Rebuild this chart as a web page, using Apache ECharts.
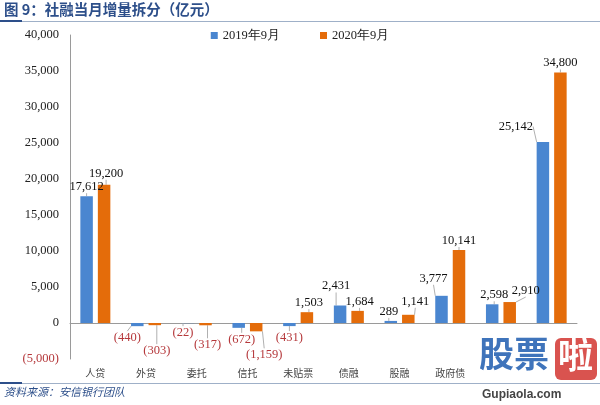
<!DOCTYPE html>
<html><head><meta charset="utf-8">
<script src="https://cdn.jsdelivr.net/npm/echarts@6/dist/echarts.min.js"></script>
<style>html,body{margin:0;padding:0;background:#fff}#c{width:600px;height:405px}</style>
</head><body><div id="c"></div>
<script>
const categories = ['人贷','外贷','委托','信托','未贴票','债融','股融','政府债','',''];
const seriesNames = ['2019年9月','2020年9月'];
const values2019 = [17612,-440,-22,-672,-431,2431,289,3777,2598,25142];
const values2020 = [19200,-303,-317,-1159,1503,1684,1141,10141,2910,34800];
const yTicks = [-5000,0,5000,10000,15000,20000,25000,30000,35000,40000];

const fmt = v => { const s = Math.abs(v).toLocaleString('en-US'); return v < 0 ? '(' + s + ')' : s; };
const serif = 'Liberation Serif';
const cjk = 'Noto Sans CJK SC';

// label displacement (dx, dy) per data index
const shift2019 = [[0,0],[-10,2],[-5,0],[3,2],[0,2],[-4,-10],[-2,0],[-8,-8],[2,0],[-27,-6]];
const shift2020 = [[2,-2],[2,16],[2,10],[8,14],[2,0],[2,0],[7,-4],[0,0],[16,-2],[0,0]];

function mkData(vals){
  return vals.map(v => ({value:v, label:{position: v < 0 ? 'bottom' : 'top', color: v < 0 ? '#b5383b' : '#111'}}));
}
const chart = echarts.init(document.getElementById('c'), null, {renderer:'canvas'});
const labelBase = {show:true, fontFamily:serif, fontSize:12.5, distance:3, formatter:p => fmt(p.value)};
chart.setOption({
  animation:false,
  textStyle:{fontFamily:serif},
  legend:{top:24, left:'center', itemWidth:7, itemHeight:7, itemGap:40, icon:'rect',
    textStyle:{fontFamily:serif, fontSize:12.5, color:'#222'}, data:seriesNames},
  grid:{left:70, right:23, top:35, bottom:46, containLabel:false},
  xAxis:[
    {type:'category', data:categories, axisLine:{onZero:true, lineStyle:{color:'#9a9a9a'}}, axisTick:{show:false}, axisLabel:{show:false}},
    {type:'category', data:categories, position:'bottom', axisLine:{show:false, onZero:false}, axisTick:{show:false},
     axisLabel:{show:true, margin:9, fontFamily:cjk, fontSize:10, color:'#444'}}
  ],
  yAxis:{type:'value', min:-5000, max:40000, interval:5000,
    axisLine:{show:true, lineStyle:{color:'#9a9a9a'}}, axisTick:{show:false}, splitLine:{show:false},
    axisLabel:{fontFamily:serif, fontSize:12.5, color:'#222', margin:11,
      formatter:v => v < 0 ? '{n|' + fmt(v) + '}' : fmt(v), rich:{n:{color:'#b5383b', fontFamily:serif, fontSize:12.5}}}},
  series:[
    {name:seriesNames[0], type:'bar', data:mkData(values2019), barWidth:12.5, barGap:'40%',
     itemStyle:{color:'#4a86d0'}, label:labelBase,
     labelLine:{show:true, lineStyle:{color:'#b0b0b0', width:1}},
     labelLayout:p => ({dx:shift2019[p.dataIndex][0], dy:shift2019[p.dataIndex][1]})},
    {name:seriesNames[1], type:'bar', data:mkData(values2020), barWidth:12.5, barGap:'40%',
     itemStyle:{color:'#e46c0a'}, label:labelBase,
     labelLine:{show:true, lineStyle:{color:'#b0b0b0', width:1}},
     labelLayout:p => ({dx:shift2020[p.dataIndex][0], dy:shift2020[p.dataIndex][1]})}
  ],
  graphic:[
    {type:'text', left:4, top:2, style:{text:'图 9：社融当月增量拆分（亿元）', fill:'#2d4f8a', font:'bold 14.5px "Noto Sans CJK SC"'}},
    {type:'rect', shape:{x:0,y:21,width:600,height:1}, style:{fill:'#9fb0c8'}},
    {type:'rect', shape:{x:0,y:20,width:22,height:2}, style:{fill:'#2d4f8a'}},
    {type:'rect', shape:{x:0,y:383,width:600,height:1}, style:{fill:'#9fb0c8'}},
    {type:'rect', shape:{x:0,y:382,width:22,height:2}, style:{fill:'#2d4f8a'}},
    {type:'text', left:4, top:386, style:{text:'资料来源：安信银行团队', fill:'#2d4f8a', font:'italic 11px "Noto Sans CJK SC"'}},
    {type:'text', left:479, top:336, style:{text:'股票', fill:'#3f74bb', font:'bold 35px "Noto Sans CJK SC"'}},
    {type:'rect', shape:{x:555,y:338,width:42,height:42,r:6}, style:{fill:'#d9534f'}},
    {type:'text', left:558, top:337, style:{text:'啦', fill:'#fff', font:'bold 35px "Noto Sans CJK SC"'}},
    {type:'text', left:482, top:389, style:{text:'Gupiaola.com', fill:'#444', font:'bold 12px "Liberation Sans"'}}
  ]
});
</script></body></html>
